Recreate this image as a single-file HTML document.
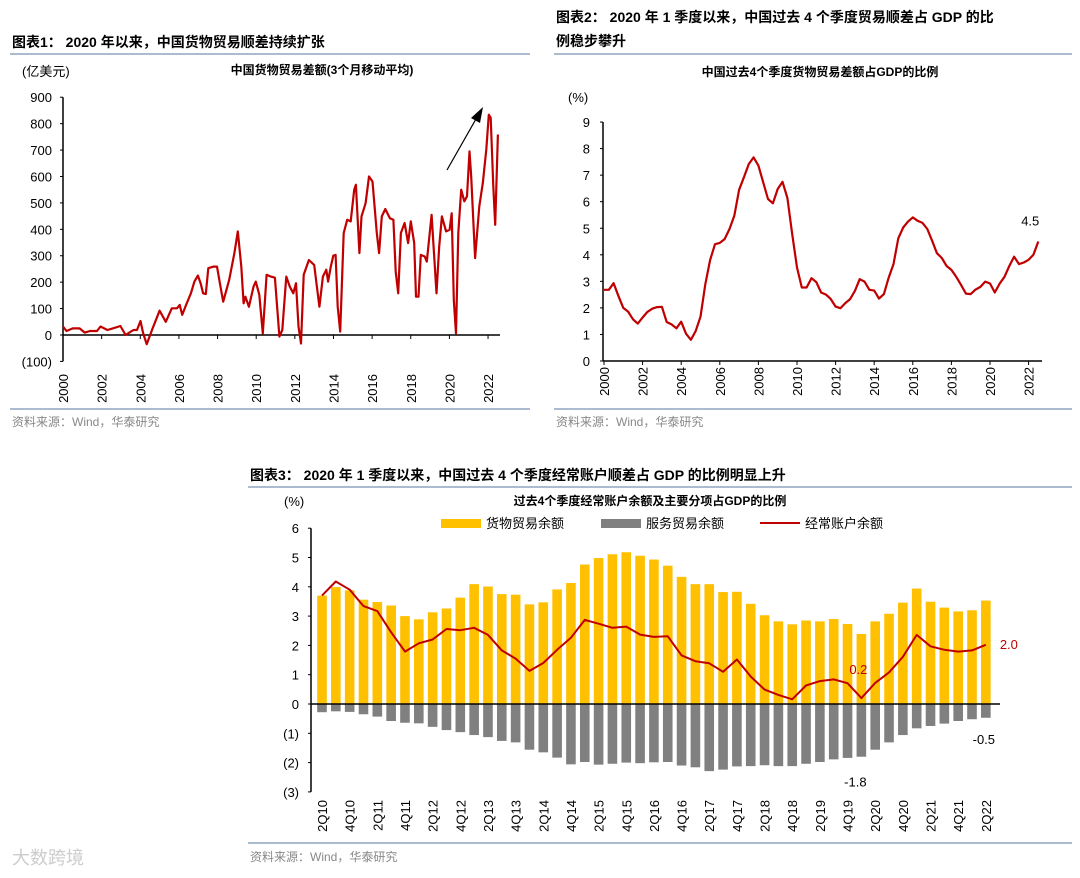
<!DOCTYPE html>
<html><head><meta charset="utf-8"><style>
html,body{margin:0;padding:0;background:#fff;}
svg{display:block;font-family:"Liberation Sans","Noto Sans CJK SC",sans-serif;}
.t{font-size:14px;font-weight:bold;fill:#000;}
.ct{font-size:12px;font-weight:bold;fill:#000;}
.lb{font-size:13px;fill:#000;}
.src{font-size:12px;fill:#888;}
</style></head><body>
<svg id="s" width="1080" height="878" viewBox="0 0 1080 878" xmlns="http://www.w3.org/2000/svg">
<text class="t" x="12" y="47">图表1：  2020 年以来，中国货物贸易顺差持续扩张</text>
<line x1="10" y1="54" x2="530" y2="54" stroke="#8fa6c2" stroke-width="1.5"/>
<text class="lb" x="22" y="76">(亿美元)</text>
<text class="ct" x="322" y="74" text-anchor="middle">中国货物贸易差额(3个月移动平均)</text>
<line x1="10" y1="409" x2="530" y2="409" stroke="#8fa6c2" stroke-width="1.5"/>
<text class="src" x="12" y="426">资料来源：Wind，华泰研究</text>

<text class="t" x="556" y="22">图表2：  2020 年 1 季度以来，中国过去 4 个季度贸易顺差占 GDP 的比</text>
<text class="t" x="556" y="46">例稳步攀升</text>
<line x1="554" y1="54" x2="1072" y2="54" stroke="#8fa6c2" stroke-width="1.5"/>
<text class="ct" x="820" y="76" text-anchor="middle">中国过去4个季度货物贸易差额占GDP的比例</text>
<text class="lb" x="568" y="102">(%)</text>
<line x1="554" y1="409" x2="1072" y2="409" stroke="#8fa6c2" stroke-width="1.5"/>
<text class="src" x="556" y="426">资料来源：Wind，华泰研究</text>

<text class="t" x="250" y="480">图表3：  2020 年 1 季度以来，中国过去 4 个季度经常账户顺差占 GDP 的比例明显上升</text>
<line x1="248" y1="487" x2="1072" y2="487" stroke="#8fa6c2" stroke-width="1.5"/>
<text class="ct" x="650" y="505" text-anchor="middle">过去4个季度经常账户余额及主要分项占GDP的比例</text>
<text class="lb" x="284" y="506">(%)</text>
<g>
<rect x="441" y="519" width="40" height="9" fill="#FFC000"/>
<text class="lb" x="486" y="528">货物贸易余额</text>
<rect x="601" y="519" width="40" height="9" fill="#808080"/>
<text class="lb" x="646" y="528">服务贸易余额</text>
<line x1="760" y1="523" x2="800" y2="523" stroke="#C00000" stroke-width="2"/>
<text class="lb" x="805" y="528">经常账户余额</text>
</g>
<line x1="248" y1="843" x2="1072" y2="843" stroke="#8fa6c2" stroke-width="1.5"/>
<text class="src" x="250" y="861">资料来源：Wind，华泰研究</text>
<text x="12" y="864" font-size="18" fill="#ccc">大数跨境</text>
</svg>
<script>
// Chart 1 data (year fraction, 亿美元)
const c1Years=[2000.0,2000.18,2000.5,2000.86,2001.13,2001.4,2001.76,2001.94,2002.3,2002.57,2002.97,2003.24,2003.65,2003.83,2004.01,2004.15,2004.33,2004.64,2005.0,2005.32,2005.63,2005.9,2006.04,2006.17,2006.38,2006.62,2006.8,2006.98,2007.12,2007.25,2007.39,2007.52,2007.79,2007.97,2008.15,2008.29,2008.6,2008.87,2009.05,2009.23,2009.35,2009.44,2009.62,2009.86,2009.98,2010.16,2010.34,2010.54,2010.76,2010.97,2011.2,2011.35,2011.56,2011.74,2011.92,2012.06,2012.19,2012.32,2012.46,2012.73,2013.0,2013.14,2013.27,2013.45,2013.63,2013.72,2013.86,2013.99,2014.11,2014.22,2014.35,2014.53,2014.71,2014.89,2015.07,2015.16,2015.34,2015.45,2015.66,2015.84,2016.02,2016.24,2016.36,2016.5,2016.68,2016.92,2017.1,2017.22,2017.35,2017.49,2017.68,2017.86,2018.0,2018.18,2018.27,2018.4,2018.52,2018.72,2018.83,2019.08,2019.33,2019.47,2019.61,2019.83,2020.01,2020.12,2020.23,2020.34,2020.46,2020.61,2020.77,2020.91,2021.04,2021.13,2021.33,2021.55,2021.73,2021.91,2022.04,2022.14,2022.27,2022.37,2022.51];
const c1Values=[32,15,25,25,9,15,15,32,19,25,34,0,19,19,53,6,-35,25,92,50,101,101,114,76,116,158,202,225,196,158,155,253,259,259,183,126,209,310,392,259,120,145,107,183,202,152,6,228,221,217,-6,19,221,183,158,196,32,-32,228,284,265,183,107,221,247,202,259,300,303,107,13,386,436,430,550,569,310,449,499,600,581,386,310,449,477,442,436,240,158,386,424,348,430,348,145,145,303,297,278,455,158,335,449,392,398,461,133,6,386,550,506,525,695,600,291,487,575,702,834,822,563,417,759];
const c1YTicks=[900,800,700,600,500,400,300,200,100,0,-100];
const c1XTicks=[2000,2002,2004,2006,2008,2010,2012,2014,2016,2018,2020,2022];
// Chart 2 data: quarterly from 2000Q1
const c2Values=[2.68,2.68,2.93,2.44,2.0,1.86,1.57,1.41,1.64,1.85,1.97,2.03,2.04,1.47,1.38,1.23,1.48,1.03,0.8,1.13,1.67,2.89,3.8,4.4,4.45,4.59,4.97,5.47,6.45,6.92,7.42,7.67,7.36,6.73,6.1,5.94,6.48,6.75,6.14,4.78,3.52,2.77,2.77,3.12,2.97,2.58,2.5,2.33,2.05,1.99,2.18,2.33,2.64,3.08,2.99,2.68,2.65,2.35,2.52,3.14,3.65,4.62,5.03,5.25,5.41,5.28,5.2,4.97,4.53,4.06,3.88,3.58,3.43,3.17,2.87,2.54,2.52,2.69,2.79,2.99,2.92,2.58,2.92,3.17,3.58,3.93,3.65,3.71,3.81,4.0,4.5];
const c2YTicks=[9,8,7,6,5,4,3,2,1,0];
const c2XTicks=[2000,2002,2004,2006,2008,2010,2012,2014,2016,2018,2020,2022];
// Chart 3 data
const c3Quarters=["2Q10","3Q10","4Q10","1Q11","2Q11","3Q11","4Q11","1Q12","2Q12","3Q12","4Q12","1Q13","2Q13","3Q13","4Q13","1Q14","2Q14","3Q14","4Q14","1Q15","2Q15","3Q15","4Q15","1Q16","2Q16","3Q16","4Q16","1Q17","2Q17","3Q17","4Q17","1Q18","2Q18","3Q18","4Q18","1Q19","2Q19","3Q19","4Q19","1Q20","2Q20","3Q20","4Q20","1Q21","2Q21","3Q21","4Q21","1Q22","2Q22"];
const c3Goods=[3.70,3.99,3.88,3.56,3.48,3.36,3.0,2.89,3.13,3.26,3.63,4.09,4.01,3.75,3.73,3.40,3.47,3.91,4.13,4.76,4.98,5.11,5.18,5.06,4.93,4.72,4.34,4.09,4.09,3.82,3.83,3.42,3.03,2.82,2.72,2.85,2.82,2.90,2.73,2.39,2.82,3.08,3.46,3.94,3.49,3.29,3.16,3.20,3.53];
const c3Services=[-0.28,-0.25,-0.27,-0.35,-0.43,-0.58,-0.64,-0.66,-0.78,-0.89,-0.96,-1.06,-1.13,-1.26,-1.31,-1.56,-1.65,-1.83,-2.06,-1.98,-2.07,-2.04,-2.0,-2.02,-1.99,-1.98,-2.1,-2.16,-2.29,-2.24,-2.13,-2.12,-2.09,-2.12,-2.12,-2.04,-1.98,-1.89,-1.84,-1.80,-1.56,-1.31,-1.06,-0.83,-0.75,-0.67,-0.58,-0.52,-0.47];
const c3Current=[3.7,4.18,3.90,3.34,3.17,2.45,1.79,2.07,2.2,2.56,2.52,2.6,2.36,1.83,1.55,1.13,1.40,1.85,2.26,2.87,2.74,2.6,2.64,2.37,2.29,2.31,1.66,1.46,1.39,1.10,1.52,0.94,0.49,0.31,0.16,0.63,0.78,0.84,0.71,0.2,0.72,1.08,1.61,2.36,1.97,1.85,1.79,1.83,2.02];
const c3YTicks=[6,5,4,3,2,1,0,-1,-2,-3];

const NS="http://www.w3.org/2000/svg";
const svg=document.getElementById('s');
function mk(tag,attrs,parent){const e=document.createElementNS(NS,tag);for(const k in attrs)e.setAttribute(k,attrs[k]);(parent||svg).appendChild(e);return e;}
function fmt(v){return v<0?'('+(-v)+')':String(v);}

// ---- Chart 1 ----
const x1=y=>63+(y-2000)*19.32;
const y1=v=>335-v*0.2642;
let g=mk('g',{});


let e=mk('line',{x1:63,y1:y1(900),x2:63,y2:y1(-100),stroke:'#000','stroke-width':1.5},g);


e=mk('line',{x1:63,y1:y1(0),x2:500,y2:y1(0),stroke:'#000','stroke-width':1.5},g);


c1YTicks.forEach(v=>{
  mk('line',{x1:60,y1:y1(v),x2:63,y2:y1(v),stroke:'#000'},g);
  const t=mk('text',{x:52,y:y1(v)+5,'text-anchor':'end',class:'lb'},g);t.textContent=fmt(v);
  
  
});
c1XTicks.forEach(y=>{
  mk('line',{x1:x1(y),y1:y1(0),x2:x1(y),y2:y1(0)+4,stroke:'#000'},g);
  const t=mk('text',{x:0,y:0,'text-anchor':'end',class:'lb',transform:`translate(${x1(y)+5},${374}) rotate(-90)`},g);t.textContent=y;
  
  
});
e=mk('polyline',{points:c1Years.map((y,i)=>x1(y).toFixed(1)+','+y1(c1Values[i]).toFixed(1)).join(' '),fill:'none',stroke:'#C00000','stroke-width':2.2,'stroke-linejoin':'round'},g);


e=mk('line',{x1:447,y1:170,x2:476,y2:119,stroke:'#000','stroke-width':1.2},g);


e=mk('polygon',{points:'483,107 471,118 480,123',fill:'#000'},g);



// ---- Chart 2 ----
const x2=y=>604+(y-2000)*19.3;
const y2=v=>361-v*26.55;
g=mk('g',{});


e=mk('line',{x1:603,y1:y2(9),x2:603,y2:y2(0),stroke:'#000','stroke-width':1.5},g);


e=mk('line',{x1:603,y1:y2(0),x2:1042,y2:y2(0),stroke:'#000','stroke-width':1.5},g);


c2YTicks.forEach(v=>{
  mk('line',{x1:600,y1:y2(v),x2:603,y2:y2(v),stroke:'#000'},g);
  const t=mk('text',{x:590,y:y2(v)+5,'text-anchor':'end',class:'lb'},g);t.textContent=v;
  
  
});
c2XTicks.forEach(y=>{
  mk('line',{x1:x2(y),y1:y2(0),x2:x2(y),y2:y2(0)+4,stroke:'#000'},g);
  const t=mk('text',{x:0,y:0,'text-anchor':'end',class:'lb',transform:`translate(${x2(y)+5},${367}) rotate(-90)`},g);t.textContent=y;
  
  
});
e=mk('polyline',{points:c2Values.map((v,i)=>x2(2000+i/4).toFixed(1)+','+y2(v).toFixed(1)).join(' '),fill:'none',stroke:'#C00000','stroke-width':2.2,'stroke-linejoin':'round'},g);


const last2=c2Values[c2Values.length-1];
e=mk('text',{x:x2(2000+(c2Values.length-1)/4)-8,y:y2(last2)-16,'text-anchor':'middle',class:'lb'},g);e.textContent=last2.toFixed(1);



// ---- Chart 3 ----
const x3=i=>322+i*13.83;
const y3=v=>704-v*29.3;
g=mk('g',{});


c3Goods.forEach((v,i)=>{
  const r=mk('rect',{x:x3(i)-4.8,y:y3(v),width:9.6,height:y3(0)-y3(v),fill:'#FFC000'},g);
  
  
});
c3Services.forEach((v,i)=>{
  const r=mk('rect',{x:x3(i)-4.8,y:y3(0),width:9.6,height:y3(v)-y3(0),fill:'#808080'},g);
  
  
});
e=mk('line',{x1:311,y1:y3(6),x2:311,y2:y3(-3),stroke:'#000','stroke-width':1.5},g);


e=mk('line',{x1:311,y1:y3(0),x2:1000,y2:y3(0),stroke:'#000','stroke-width':1.5},g);


c3YTicks.forEach(v=>{
  mk('line',{x1:308,y1:y3(v),x2:311,y2:y3(v),stroke:'#000'},g);
  const t=mk('text',{x:299,y:y3(v)+5,'text-anchor':'end',class:'lb'},g);t.textContent=fmt(v);
  
  
});
c3Quarters.forEach((q,i)=>{
  if(i%2)return;
  const t=mk('text',{x:0,y:0,'text-anchor':'end',class:'lb',transform:`translate(${x3(i)+5},${800}) rotate(-90)`},g);t.textContent=q;
  
  
});
e=mk('polyline',{points:c3Current.map((v,i)=>x3(i).toFixed(1)+','+y3(v).toFixed(1)).join(' '),fill:'none',stroke:'#C00000','stroke-width':2,'stroke-linejoin':'round'},g);


const n=c3Current.length-1;
e=mk('text',{x:x3(n)+14,y:y3(c3Current[n])+4,class:'lb',style:'fill:#C00000'},g);e.textContent=c3Current[n].toFixed(1);


const mi=39;
e=mk('text',{x:x3(mi)-3,y:y3(c3Current[mi])-24,'text-anchor':'middle',class:'lb',style:'fill:#C00000'},g);e.textContent=c3Current[mi].toFixed(1);


e=mk('text',{x:x3(mi)-6,y:y3(c3Services[mi])+30,'text-anchor':'middle',class:'lb'},g);e.textContent=c3Services[mi].toFixed(1);


e=mk('text',{x:x3(n)-2,y:y3(c3Services[n])+26,'text-anchor':'middle',class:'lb'},g);e.textContent=c3Services[n].toFixed(1);


</script>
</body></html>
